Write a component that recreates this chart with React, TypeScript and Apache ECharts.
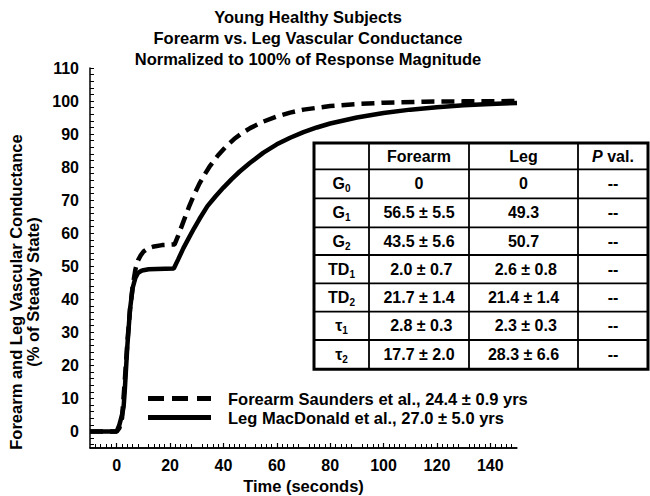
import React, { useEffect, useRef } from "react";
import * as echarts from "echarts";

const titleLines = [
  "Young Healthy Subjects",
  "Forearm vs. Leg Vascular Conductance",
  "Normalized to 100% of Response Magnitude",
];
const xAxisName = "Time (seconds)";
const yAxisName = "Forearm and Leg Vascular Conductance\n(% of Steady State)";

const xMin = -10;
const xMax = 150;
const yMin = -5;
const yMax = 110;
const xMajorTicks = [0, 20, 40, 60, 80, 100, 120, 140];
const yMajorTicks = [0, 10, 20, 30, 40, 50, 60, 70, 80, 90, 100, 110];
const yMinorTicks = [-4, -2, 0, 2, 4, 6, 8, 10, 12, 14, 16, 18, 20, 22, 24, 26, 28, 30, 32, 34, 36, 38, 40, 42, 44, 46, 48, 50, 52, 54, 56, 58, 60, 62, 64, 66, 68, 70, 72, 74, 76, 78, 80, 82, 84, 86, 88, 90, 92, 94, 96, 98, 100, 102, 104, 106, 108, 110];

const forearmName = "Forearm Saunders et al., 24.4 \u00b1 0.9 yrs";
const legName = "Leg MacDonald et al., 27.0 \u00b1 5.0 yrs";

const forearmTime = [-10, 0, 1, 2, 3, 4, 5, 6, 7, 8, 9, 10, 12, 14, 17, 21.7, 23, 25, 27, 29, 31, 33, 35, 38, 41, 44, 47, 50, 55, 60, 65, 70, 80, 90, 100, 115, 130, 150];
const forearmValue = [0, 0, 1, 4, 15, 27, 37, 44, 49, 51.8, 53.3, 54.4, 55.5, 56, 56.4, 56.6, 59.2, 63.5, 67.8, 71.6, 75, 77.8, 80.4, 83.6, 86.3, 88.5, 90.3, 91.8, 93.8, 95.3, 96.5, 97.4, 98.5, 99.1, 99.5, 99.8, 99.9, 100];

const legTime = [-10, 0, 1, 2, 2.6, 3, 4, 5, 6, 7, 8, 9, 10, 12, 15, 21.4, 23, 25, 27, 29, 31, 34, 37, 40, 43, 46, 50, 55, 60, 65, 70, 75, 80, 90, 100, 110, 120, 130, 140, 150];
const legValue = [0, 0, 2, 5, 7.5, 12, 26, 37, 43.5, 46.5, 48, 48.5, 48.8, 49.1, 49.2, 49.3, 52, 55.5, 58.5, 61.5, 64.3, 68.2, 71.1, 73.8, 76.3, 78.6, 81.3, 84.4, 86.9, 88.9, 90.6, 92, 93.2, 95, 96.4, 97.4, 98.1, 98.7, 99.1, 99.4];

const tableHeader = ["", "Forearm", "Leg", "{i|P} val."];
const paramNames = ["{b|G}{s|0}", "{b|G}{s|1}", "{b|G}{s|2}", "{b|TD}{s|1}", "{b|TD}{s|2}", "{b|\u03c4}{s|1}", "{b|\u03c4}{s|2}"];
const forearmParams = ["0", "56.5 \u00b1 5.5", "43.5 \u00b1 5.6", " 2.0 \u00b1 0.7", "21.7 \u00b1 1.4", " 2.8 \u00b1 0.3", "17.7 \u00b1 2.0"];
const legParams = ["0", "49.3", "50.7", " 2.6 \u00b1 0.8", "21.4 \u00b1 1.4", " 2.3 \u00b1 0.3", "28.3 \u00b1 6.6"];
const pValues = ["--", "--", "--", "--", "--", "--", "--"];

const FONT = "'Liberation Sans', Arial, sans-serif";

export default function App() {
  const ref = useRef<HTMLDivElement>(null);
  useEffect(() => {
    if (!ref.current) return;
    const chart = echarts.init(ref.current, null, { renderer: "svg" });

    const colX = [314, 369, 469, 578, 648];
    const rowY = [143, 169.3, 198.3, 227.3, 255, 283.3, 311.7, 340, 369.3];
    const textStyleBase = { fontFamily: FONT, fontWeight: "bold", fontSize: 16, fill: "#000" };
    const rich = {
      b: { fontFamily: FONT, fontWeight: "bold", fontSize: 16, lineHeight: 20, fill: "#000" },
      s: { fontFamily: FONT, fontWeight: "bold", fontSize: 10, lineHeight: 10, verticalAlign: "bottom", fill: "#000" },
      i: { fontFamily: FONT, fontWeight: "bold", fontStyle: "italic", fontSize: 16, fill: "#000" },
    };

    const graphics: any[] = [];
    graphics.push({
      type: "rect",
      shape: { x: colX[0], y: rowY[0], width: colX[4] - colX[0], height: rowY[8] - rowY[0] },
      style: { fill: "#fff", stroke: "#000", lineWidth: 3 },
      z: 10,
    });
    for (let i = 1; i < 4; i++) {
      graphics.push({
        type: "line",
        shape: { x1: colX[i], y1: rowY[0], x2: colX[i], y2: rowY[8] },
        style: { stroke: "#000", lineWidth: 1.8 },
        z: 11,
      });
    }
    for (let j = 1; j < 8; j++) {
      graphics.push({
        type: "line",
        shape: { x1: colX[0], y1: rowY[j], x2: colX[4], y2: rowY[j] },
        style: { stroke: "#000", lineWidth: 1.8 },
        z: 11,
      });
    }
    const cellText = (text: string, col: number, row: number) => ({
      type: "text",
      x: (colX[col] + colX[col + 1]) / 2,
      y: (rowY[row] + rowY[row + 1]) / 2,
      z: 12,
      style: { ...textStyleBase, text, align: "center", verticalAlign: "middle", rich },
    });
    tableHeader.forEach((h, c) => {
      if (h) graphics.push(cellText(h, c, 0));
    });
    paramNames.forEach((p, r) => {
      graphics.push(cellText(p, 0, r + 1));
      graphics.push(cellText(forearmParams[r], 1, r + 1));
      graphics.push(cellText(legParams[r], 2, r + 1));
      graphics.push(cellText(pValues[r], 3, r + 1));
    });

    const axisFont = { fontFamily: FONT, fontWeight: "bold" as const, fontSize: 16, color: "#000" };
    const bigFont = { ...axisFont, fontSize: 16.5 };

    chart.setOption({
      animation: false,
      title: {
        text: titleLines.join("\n"),
        left: 308,
        top: 6,
        padding: 0,
        textAlign: "center",
        textStyle: { ...bigFont, lineHeight: 21 },
      },
      legend: {
        orient: "vertical",
        left: 148,
        top: 389,
        itemWidth: 63,
        itemHeight: 5,
        itemGap: 0,
        padding: 0,
        data: [
          { name: forearmName, icon: "path://M0,0H16V5H0Z M24,0H40V5H24Z M49,0H63V5H49Z" },
          { name: legName, icon: "path://M0,0H63V5H0Z" },
        ],
        textStyle: { ...bigFont, lineHeight: 19, padding: [0, 0, 0, 12] },
      },
      grid: { left: 90, right: 133, top: 68, bottom: 48, containLabel: false, outerBoundsMode: "none" },
      xAxis: {
        type: "value",
        position: "bottom",
        min: xMin,
        max: xMax,
        interval: 10,
        name: xAxisName,
        nameLocation: "middle",
        nameGap: 29,
        nameTextStyle: bigFont,
        axisLine: { show: true, onZero: false, lineStyle: { color: "#000", width: 1.5 } },
        axisTick: { show: true, inside: true, customValues: xMajorTicks, length: 5, lineStyle: { color: "#000", width: 1.2 } },
        minorTick: { show: true, splitNumber: 5, length: 4, lineStyle: { color: "#000", width: 1 } },
        axisLabel: { show: true, customValues: xMajorTicks, margin: 9, ...axisFont },
        splitLine: { show: false },
        minorSplitLine: { show: false },
      },
      yAxis: {
        type: "value",
        min: yMin,
        max: yMax,
        name: yAxisName,
        nameLocation: "middle",
        nameGap: 24,
        nameTextStyle: { ...bigFont, lineHeight: 17, padding: [0, 68, 0, 0] },
        axisLine: { show: true, onZero: false, lineStyle: { color: "#000", width: 1.5 } },
        axisTick: { show: true, inside: true, customValues: yMinorTicks, length: 4, lineStyle: { color: "#000", width: 1 } },
        axisLabel: { show: true, customValues: yMajorTicks, margin: 11, ...axisFont },
        splitLine: { show: false },
      },
      series: [
        {
          name: forearmName,
          type: "line",
          symbol: "none",
          clip: false,
          data: forearmTime.map((t, i) => [t, forearmValue[i]]),
          lineStyle: { color: "#000", width: 4.5, type: [13, 7] },
          itemStyle: { color: "#000" },
          z: 3,
          markLine: {
            silent: true,
            symbol: "none",
            label: { show: false },
            lineStyle: { color: "#000", width: 1.5, type: "solid" },
            data: [[{ coord: [xMin, yMin] }, { coord: [xMax, yMin] }]],
          },
        },
        {
          name: legName,
          type: "line",
          symbol: "none",
          data: legTime.map((t, i) => [t, legValue[i]]),
          lineStyle: { color: "#000", width: 4.5, type: "solid" },
          itemStyle: { color: "#000" },
          z: 2,
        },
      ],
      graphic: graphics,
    });
    return () => chart.dispose();
  }, []);
  return (
    <div
      ref={ref}
      style={{ position: "fixed", left: 0, top: 0, width: 650, height: 496, background: "#fff" }}
    />
  );
}
